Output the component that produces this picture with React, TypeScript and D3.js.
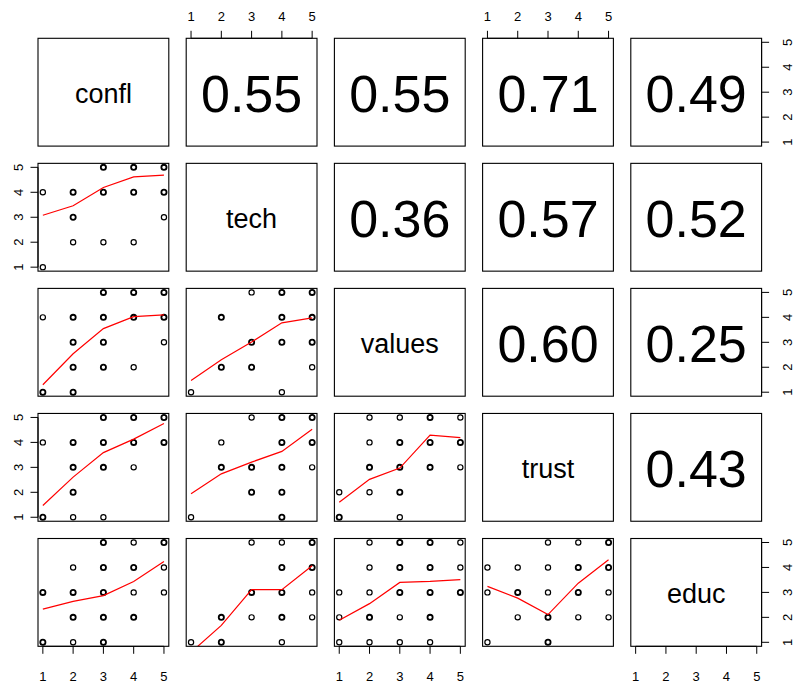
import React from "react";
import * as d3 from "d3";

const varNames = ["confl", "tech", "values", "trust", "educ"];
const tickValues = [1, 2, 3, 4, 5];

// correlations (upper panels): [row, col, value]
const corrRows = [0, 0, 0, 0, 1, 1, 1, 2, 2, 3];
const corrCols = [1, 2, 3, 4, 2, 3, 4, 3, 4, 4];
const corrValues = ["0.55", "0.55", "0.71", "0.49", "0.36", "0.57", "0.52", "0.60", "0.25", "0.43"];

// lower panels: points [x, y, overplot count]
const techVsConfl = [[1,4,1],[1,1,1],[2,4,2],[2,3,2],[2,2,1],[3,5,2],[3,4,2],[3,2,1],[4,5,2],[4,4,2],[4,2,1],[5,5,2],[5,4,2],[5,3,1]];
const techVsConflSmooth = [3.08, 3.46, 4.19, 4.62, 4.69];

const valuesVsConfl = [[1,4,1],[1,1,2],[2,4,2],[2,3,2],[2,2,2],[2,1,2],[3,5,2],[3,4,2],[3,3,2],[3,2,2],[4,5,2],[4,4,2],[4,2,1],[5,5,2],[5,4,2],[5,3,1]];
const valuesVsConflSmooth = [1.30, 2.54, 3.55, 4.03, 4.10];

const valuesVsTech = [[1,1,1],[2,4,2],[2,2,2],[3,5,1],[3,3,2],[3,2,2],[4,5,2],[4,4,2],[4,3,2],[4,1,1],[5,5,2],[5,4,2],[5,3,2],[5,2,1]];
const valuesVsTechSmooth = [1.47, 2.30, 3.01, 3.78, 3.98];

const trustVsConfl = [[1,4,1],[1,1,2],[2,4,2],[2,3,2],[2,2,2],[2,1,1],[3,5,2],[3,4,2],[3,3,2],[3,1,1],[4,5,2],[4,4,2],[4,3,1],[5,5,2],[5,4,2]];
const trustVsConflSmooth = [1.47, 2.61, 3.59, 4.13, 4.76];

const trustVsTech = [[1,1,1],[2,4,1],[2,3,2],[3,5,1],[3,3,2],[3,2,2],[4,5,2],[4,4,2],[4,3,2],[4,2,2],[4,1,2],[5,5,2],[5,4,2],[5,3,1]];
const trustVsTechSmooth = [1.94, 2.74, 3.21, 3.64, 4.53];

const trustVsValues = [[1,2,1],[1,1,2],[2,5,1],[2,4,1],[2,3,2],[2,2,1],[3,5,1],[3,4,2],[3,3,2],[3,2,2],[3,1,1],[4,5,2],[4,4,2],[4,3,2],[5,5,1],[5,4,2],[5,3,1]];
const trustVsValuesSmooth = [1.60, 2.52, 2.97, 4.29, 4.19];

const educVsConfl = [[1,3,2],[1,1,2],[2,4,1],[2,3,2],[2,2,2],[2,1,1],[3,5,2],[3,4,2],[3,3,2],[3,2,2],[3,1,2],[4,5,1],[4,4,2],[4,3,1],[4,2,2],[5,5,2],[5,4,1],[5,3,1]];
const educVsConflSmooth = [2.33, 2.64, 2.87, 3.44, 4.24];

const educVsTech = [[1,1,1],[2,2,2],[2,1,2],[3,5,1],[3,3,2],[3,2,1],[4,5,1],[4,4,2],[4,3,2],[4,2,2],[4,1,1],[5,5,2],[5,4,2],[5,3,1],[5,2,1]];
const educVsTechSmooth = [0.60, 1.68, 3.11, 3.11, 4.07];

const educVsValues = [[1,3,1],[1,2,1],[1,1,1],[2,5,1],[2,4,1],[2,3,1],[2,2,2],[2,1,1],[3,5,2],[3,4,2],[3,3,2],[3,2,1],[3,1,1],[4,5,2],[4,4,2],[4,3,2],[4,2,2],[4,1,1],[5,5,1],[5,4,1],[5,3,2]];
const educVsValuesSmooth = [1.88, 2.55, 3.40, 3.44, 3.51];

const educVsTrust = [[1,4,1],[1,3,1],[1,1,1],[2,4,1],[2,3,2],[2,2,1],[3,5,1],[3,4,1],[3,3,1],[3,2,2],[3,1,2],[4,5,1],[4,4,2],[4,3,2],[4,2,1],[5,5,2],[5,4,2],[5,3,1],[5,2,1]];
const educVsTrustSmooth = [3.24, 2.77, 2.11, 3.37, 4.31];

const lowerPanels = [
  { row: 1, col: 0, pts: techVsConfl, smooth: techVsConflSmooth },
  { row: 2, col: 0, pts: valuesVsConfl, smooth: valuesVsConflSmooth },
  { row: 2, col: 1, pts: valuesVsTech, smooth: valuesVsTechSmooth },
  { row: 3, col: 0, pts: trustVsConfl, smooth: trustVsConflSmooth },
  { row: 3, col: 1, pts: trustVsTech, smooth: trustVsTechSmooth },
  { row: 3, col: 2, pts: trustVsValues, smooth: trustVsValuesSmooth },
  { row: 4, col: 0, pts: educVsConfl, smooth: educVsConflSmooth },
  { row: 4, col: 1, pts: educVsTech, smooth: educVsTechSmooth },
  { row: 4, col: 2, pts: educVsValues, smooth: educVsValuesSmooth },
  { row: 4, col: 3, pts: educVsTrust, smooth: educVsTrustSmooth },
];

const W = 798, H = 687;
const left0 = 38, colStep = 148.2, panelW = 130.8;
const top0 = 38.3, rowStep = 125.05, panelH = 107.8;
const FONT = "Liberation Sans, Arial, Helvetica, sans-serif";

const px = (c: number) => left0 + c * colStep;
const py = (r: number) => top0 + r * rowStep;
const xScale = (c: number) => d3.scaleLinear().domain([0.84, 5.16]).range([px(c), px(c) + panelW]);
const yScale = (r: number) => d3.scaleLinear().domain([0.84, 5.16]).range([py(r) + panelH, py(r)]);

export default function App() {
  const panels = [];
  for (let r = 0; r < 5; r++) for (let c = 0; c < 5; c++) panels.push([r, c]);
  const tick = 7.5;
  const tfs = 13;
  return (
    <svg width={W} height={H} style={{ position: "absolute", left: 0, top: 0, background: "#fff" }} fontFamily={FONT}>
      <defs>
        {panels.map(([r, c]) => (
          <clipPath id={`clip-${r}-${c}`} key={`cp${r}${c}`}>
            <rect x={px(c)} y={py(r)} width={panelW} height={panelH} />
          </clipPath>
        ))}
      </defs>
      {/* lower panels */}
      {lowerPanels.map((p) => {
        const xs = xScale(p.col), ys = yScale(p.row);
        const line = d3.line<number>().x((_, i) => xs(tickValues[i])).y((v) => ys(v));
        return (
          <g key={`lp${p.row}${p.col}`} clipPath={`url(#clip-${p.row}-${p.col})`}>
            {p.pts.map((d, i) => (
              <circle key={i} cx={xs(d[0])} cy={ys(d[1])} r={2.6} fill="none" stroke="#000" strokeWidth={d[2] > 1 ? 1.8 : 1.2} />
            ))}
            <path d={line(p.smooth) || ""} fill="none" stroke="#ff0000" strokeWidth={1.2} />
          </g>
        );
      })}
      {/* diagonal labels */}
      {varNames.map((n, i) => (
        <text key={n} x={px(i) + panelW / 2} y={py(i) + panelH / 2 + 10.5} textAnchor="middle" fontSize={27} fill="#000">{n}</text>
      ))}
      {/* correlations */}
      {corrValues.map((v, i) => (
        <text key={`c${i}`} x={px(corrCols[i]) + panelW / 2} y={py(corrRows[i]) + panelH / 2 + 20} textAnchor="middle" fontSize={52} fill="#000">{v}</text>
      ))}
      {/* panel boxes */}
      {panels.map(([r, c]) => (
        <rect key={`b${r}${c}`} x={px(c)} y={py(r)} width={panelW} height={panelH} fill="none" stroke="#000" strokeWidth={1.1} />
      ))}
      {/* top axes */}
      {[1, 3].map((c) => {
        const xs = xScale(c), y0 = py(0);
        return (
          <g key={`ta${c}`}>
            <line x1={xs(1)} x2={xs(5)} y1={y0} y2={y0} stroke="#000" />
            {tickValues.map((t) => (
              <g key={t}>
                <line x1={xs(t)} x2={xs(t)} y1={y0} y2={y0 - tick} stroke="#000" />
                <text x={xs(t)} y={y0 - 22} dy="0.35em" textAnchor="middle" fontSize={tfs}>{t}</text>
              </g>
            ))}
          </g>
        );
      })}
      {/* bottom axes */}
      {[0, 2, 4].map((c) => {
        const xs = xScale(c), y0 = py(4) + panelH;
        return (
          <g key={`ba${c}`}>
            <line x1={xs(1)} x2={xs(5)} y1={y0} y2={y0} stroke="#000" />
            {tickValues.map((t) => (
              <g key={t}>
                <line x1={xs(t)} x2={xs(t)} y1={y0} y2={y0 + tick} stroke="#000" />
                <text x={xs(t)} y={y0 + 30} dy="0.35em" textAnchor="middle" fontSize={tfs}>{t}</text>
              </g>
            ))}
          </g>
        );
      })}
      {/* left axes */}
      {[1, 3].map((r) => {
        const ys = yScale(r), x0 = px(0);
        return (
          <g key={`la${r}`}>
            <line x1={x0} x2={x0} y1={ys(1)} y2={ys(5)} stroke="#000" />
            {tickValues.map((t) => (
              <g key={t}>
                <line x1={x0} x2={x0 - tick} y1={ys(t)} y2={ys(t)} stroke="#000" />
                <text transform={`translate(${x0 - 20},${ys(t)}) rotate(-90)`} dy="0.35em" textAnchor="middle" fontSize={tfs}>{t}</text>
              </g>
            ))}
          </g>
        );
      })}
      {/* right axes */}
      {[0, 2, 4].map((r) => {
        const ys = yScale(r), x0 = px(4) + panelW;
        return (
          <g key={`ra${r}`}>
            <line x1={x0} x2={x0} y1={ys(1)} y2={ys(5)} stroke="#000" />
            {tickValues.map((t) => (
              <g key={t}>
                <line x1={x0} x2={x0 + tick} y1={ys(t)} y2={ys(t)} stroke="#000" />
                <text transform={`translate(${x0 + 26},${ys(t)}) rotate(-90)`} dy="0.35em" textAnchor="middle" fontSize={tfs}>{t}</text>
              </g>
            ))}
          </g>
        );
      })}
    </svg>
  );
}
